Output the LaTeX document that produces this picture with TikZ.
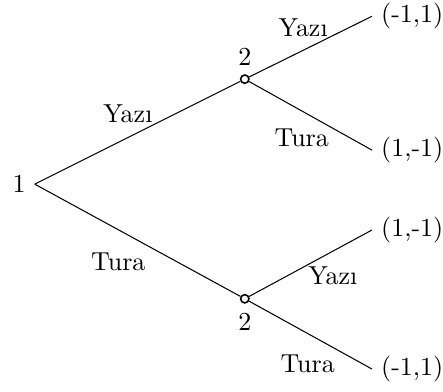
\documentclass[tikz,border=0pt]{standalone}
\usepackage{tikz}
\usetikzlibrary{positioning}

\begin{document}
\begin{tikzpicture}[x=1cm,y=1cm,
      dec/.style={circle,draw,line width=0.6pt,inner sep=0pt,minimum size=3.2pt},
      leaf/.style={anchor=west},
      lbl/.style={inner sep=1pt}]
    \useasboundingbox (0,0) rectangle (5.99,5.30);
    % players
    \node[anchor=east] (P1) at (0.47,2.81) {1};
    \node[dec,label=above:2] (P2a) at (3.31,4.23) {};
    \node[dec,label=below:2] (P2b) at (3.31,1.26) {};
    % payoffs
    \node[leaf] (L1) at (5.03,5.08) {(-1,1)};
    \node[leaf] (L2) at (5.03,3.27) {(1,-1)};
    \node[leaf] (L3) at (5.03,2.19) {(1,-1)};
    \node[leaf] (L4) at (5.03,0.31) {(-1,1)};
    % branches
    \draw (P1.east) -- (P2a);
    \draw (P1.east) -- (P2b);
    \draw (P2a) -- (L1.west);
    \draw (P2a) -- (L2.west);
    \draw (P2b) -- (L3.west);
    \draw (P2b) -- (L4.west);
    % actions
    \node[lbl] (A1) at (1.73,3.76) {Yazı};
    \node[lbl] (A2) at (1.60,1.76) {Tura};
    \node[lbl] (A3) at (4.10,4.92) {Yazı};
    \node[lbl] (A4) at (4.08,3.43) {Tura};
    \node[lbl] (A5) at (4.50,1.57) {Yazı};
    \node[lbl] (A6) at (4.16,0.38) {Tura};
\end{tikzpicture}
\end{document}
